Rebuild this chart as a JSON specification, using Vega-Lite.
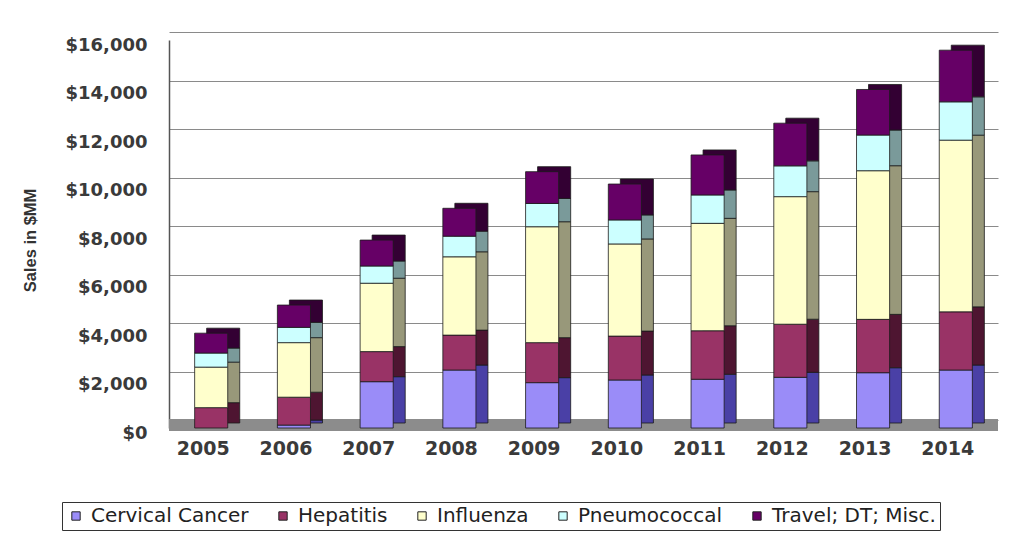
{
  "$schema": "https://vega.github.io/schema/vega-lite/v6.json",
  "width": 829,
  "height": 388,
  "autosize": {"type": "none"},
  "padding": {"left": 169, "top": 40, "right": 22, "bottom": 118},
  "background": "white",
  "config": {
    "view": {"stroke": null},
    "font": "DejaVu Sans"
  },
  "data": {
    "values": [
      {"year": "2005", "vaccine": "Hepatitis", "sales": 840},
      {"year": "2005", "vaccine": "Influenza", "sales": 1670},
      {"year": "2005", "vaccine": "Pneumococcal", "sales": 580},
      {"year": "2005", "vaccine": "Travel; DT; Misc.", "sales": 820},
      {"year": "2006", "vaccine": "Cervical Cancer", "sales": 120},
      {"year": "2006", "vaccine": "Hepatitis", "sales": 1150},
      {"year": "2006", "vaccine": "Influenza", "sales": 2250},
      {"year": "2006", "vaccine": "Pneumococcal", "sales": 630},
      {"year": "2006", "vaccine": "Travel; DT; Misc.", "sales": 920},
      {"year": "2007", "vaccine": "Cervical Cancer", "sales": 1910},
      {"year": "2007", "vaccine": "Hepatitis", "sales": 1240},
      {"year": "2007", "vaccine": "Influenza", "sales": 2820},
      {"year": "2007", "vaccine": "Pneumococcal", "sales": 710},
      {"year": "2007", "vaccine": "Travel; DT; Misc.", "sales": 1070},
      {"year": "2008", "vaccine": "Cervical Cancer", "sales": 2390},
      {"year": "2008", "vaccine": "Hepatitis", "sales": 1440},
      {"year": "2008", "vaccine": "Influenza", "sales": 3230},
      {"year": "2008", "vaccine": "Pneumococcal", "sales": 850},
      {"year": "2008", "vaccine": "Travel; DT; Misc.", "sales": 1150},
      {"year": "2009", "vaccine": "Cervical Cancer", "sales": 1870},
      {"year": "2009", "vaccine": "Hepatitis", "sales": 1650},
      {"year": "2009", "vaccine": "Influenza", "sales": 4780},
      {"year": "2009", "vaccine": "Pneumococcal", "sales": 960},
      {"year": "2009", "vaccine": "Travel; DT; Misc.", "sales": 1310},
      {"year": "2010", "vaccine": "Cervical Cancer", "sales": 1980},
      {"year": "2010", "vaccine": "Hepatitis", "sales": 1810},
      {"year": "2010", "vaccine": "Influenza", "sales": 3800},
      {"year": "2010", "vaccine": "Pneumococcal", "sales": 990},
      {"year": "2010", "vaccine": "Travel; DT; Misc.", "sales": 1480},
      {"year": "2011", "vaccine": "Cervical Cancer", "sales": 2010},
      {"year": "2011", "vaccine": "Hepatitis", "sales": 2000},
      {"year": "2011", "vaccine": "Influenza", "sales": 4430},
      {"year": "2011", "vaccine": "Pneumococcal", "sales": 1170},
      {"year": "2011", "vaccine": "Travel; DT; Misc.", "sales": 1650},
      {"year": "2012", "vaccine": "Cervical Cancer", "sales": 2090},
      {"year": "2012", "vaccine": "Hepatitis", "sales": 2190},
      {"year": "2012", "vaccine": "Influenza", "sales": 5260},
      {"year": "2012", "vaccine": "Pneumococcal", "sales": 1270},
      {"year": "2012", "vaccine": "Travel; DT; Misc.", "sales": 1760},
      {"year": "2013", "vaccine": "Cervical Cancer", "sales": 2280},
      {"year": "2013", "vaccine": "Hepatitis", "sales": 2200},
      {"year": "2013", "vaccine": "Influenza", "sales": 6130},
      {"year": "2013", "vaccine": "Pneumococcal", "sales": 1470},
      {"year": "2013", "vaccine": "Travel; DT; Misc.", "sales": 1880},
      {"year": "2014", "vaccine": "Cervical Cancer", "sales": 2390},
      {"year": "2014", "vaccine": "Hepatitis", "sales": 2400},
      {"year": "2014", "vaccine": "Influenza", "sales": 7080},
      {"year": "2014", "vaccine": "Pneumococcal", "sales": 1580},
      {"year": "2014", "vaccine": "Travel; DT; Misc.", "sales": 2130}
    ]
  },
  "encoding": {
    "x": {
      "field": "year",
      "type": "ordinal",
      "scale": {"paddingInner": 0.6, "paddingOuter": 0.31},
      "axis": {
        "title": null,
        "labelAngle": 0,
        "labelFont": "DejaVu Sans",
        "labelFontWeight": "bold",
        "labelFontSize": 19,
        "labelColor": "#3a3a3a",
        "labelOffset": -8,
        "labelPadding": 11,
        "ticks": false,
        "domain": false,
        "grid": false
      }
    },
    "y": {
      "field": "sales",
      "type": "quantitative",
      "aggregate": "sum",
      "stack": "zero",
      "scale": {"domain": [0, 16000], "nice": false},
      "axis": {
        "title": "Sales in $MM",
        "titleFont": "Liberation Sans",
        "titleFontWeight": "bold",
        "titleFontSize": 16.5,
        "titleColor": "#333333",
        "titleX": -139,
        "titleY": 200,
        "titleAlign": "center",
        "titleBaseline": "middle",
        "values": [0, 2000, 4000, 6000, 8000, 10000, 12000, 14000, 16000],
        "format": "$,.0f",
        "labelFont": "DejaVu Sans",
        "labelFontWeight": "bold",
        "labelFontSize": 18,
        "labelColor": "#3a3a3a",
        "labelPadding": 22,
        "labelOffset": 13,
        "ticks": false,
        "tickSize": 0,
        "tickOffset": -8,
        "grid": true,
        "gridColor": "#8a8a8a",
        "gridWidth": 1,
        "domain": true,
        "domainColor": "#555555",
        "domainWidth": 1.5
      }
    },
    "order": {"field": "vaccine", "type": "ordinal", "sort": "ascending"}
  },
  "layer": [
    {
      "mark": {"type": "rule", "color": "#8c8c8c", "strokeWidth": 12, "yOffset": -3},
      "encoding": {
        "x": null,
        "order": null,
        "y": {"datum": 0, "type": "quantitative"}
      }
    },
    {
      "mark": {
        "type": "bar",
        "xOffset": 12,
        "x2Offset": 12,
        "yOffset": -5,
        "y2Offset": -5,
        "stroke": "#1a1a1a",
        "strokeWidth": 0.8
      },
      "encoding": {
        "color": {
          "field": "vaccine",
          "type": "nominal",
          "scale": {
            "domain": ["Cervical Cancer", "Hepatitis", "Influenza", "Pneumococcal", "Travel; DT; Misc."],
            "range": ["#4a40a6", "#4e1531", "#98987a", "#7a9a9a", "#330033"]
          },
          "legend": null
        }
      }
    },
    {
      "mark": {"type": "bar", "stroke": "#1a1a1a", "strokeWidth": 0.8},
      "encoding": {
        "color": {
          "field": "vaccine",
          "type": "nominal",
          "scale": {
            "domain": ["Cervical Cancer", "Hepatitis", "Influenza", "Pneumococcal", "Travel; DT; Misc."],
            "range": ["#9a8cf8", "#993366", "#ffffcc", "#ccffff", "#660066"]
          },
          "legend": {
            "title": null,
            "orient": "none",
            "direction": "horizontal",
            "legendX": -107,
            "legendY": 462,
            "padding": 4,
            "strokeColor": "#333333",
            "fillColor": "white",
            "symbolType": "square",
            "symbolSize": 70,
            "symbolStrokeColor": "#222222",
            "symbolStrokeWidth": 1,
            "labelFont": "DejaVu Sans",
            "labelFontSize": 20,
            "labelColor": "#222222",
            "labelOffset": 5,
            "columnPadding": 24,
            "labelLimit": 400
          }
        }
      }
    }
  ],
  "resolve": {"scale": {"color": "independent"}}
}
